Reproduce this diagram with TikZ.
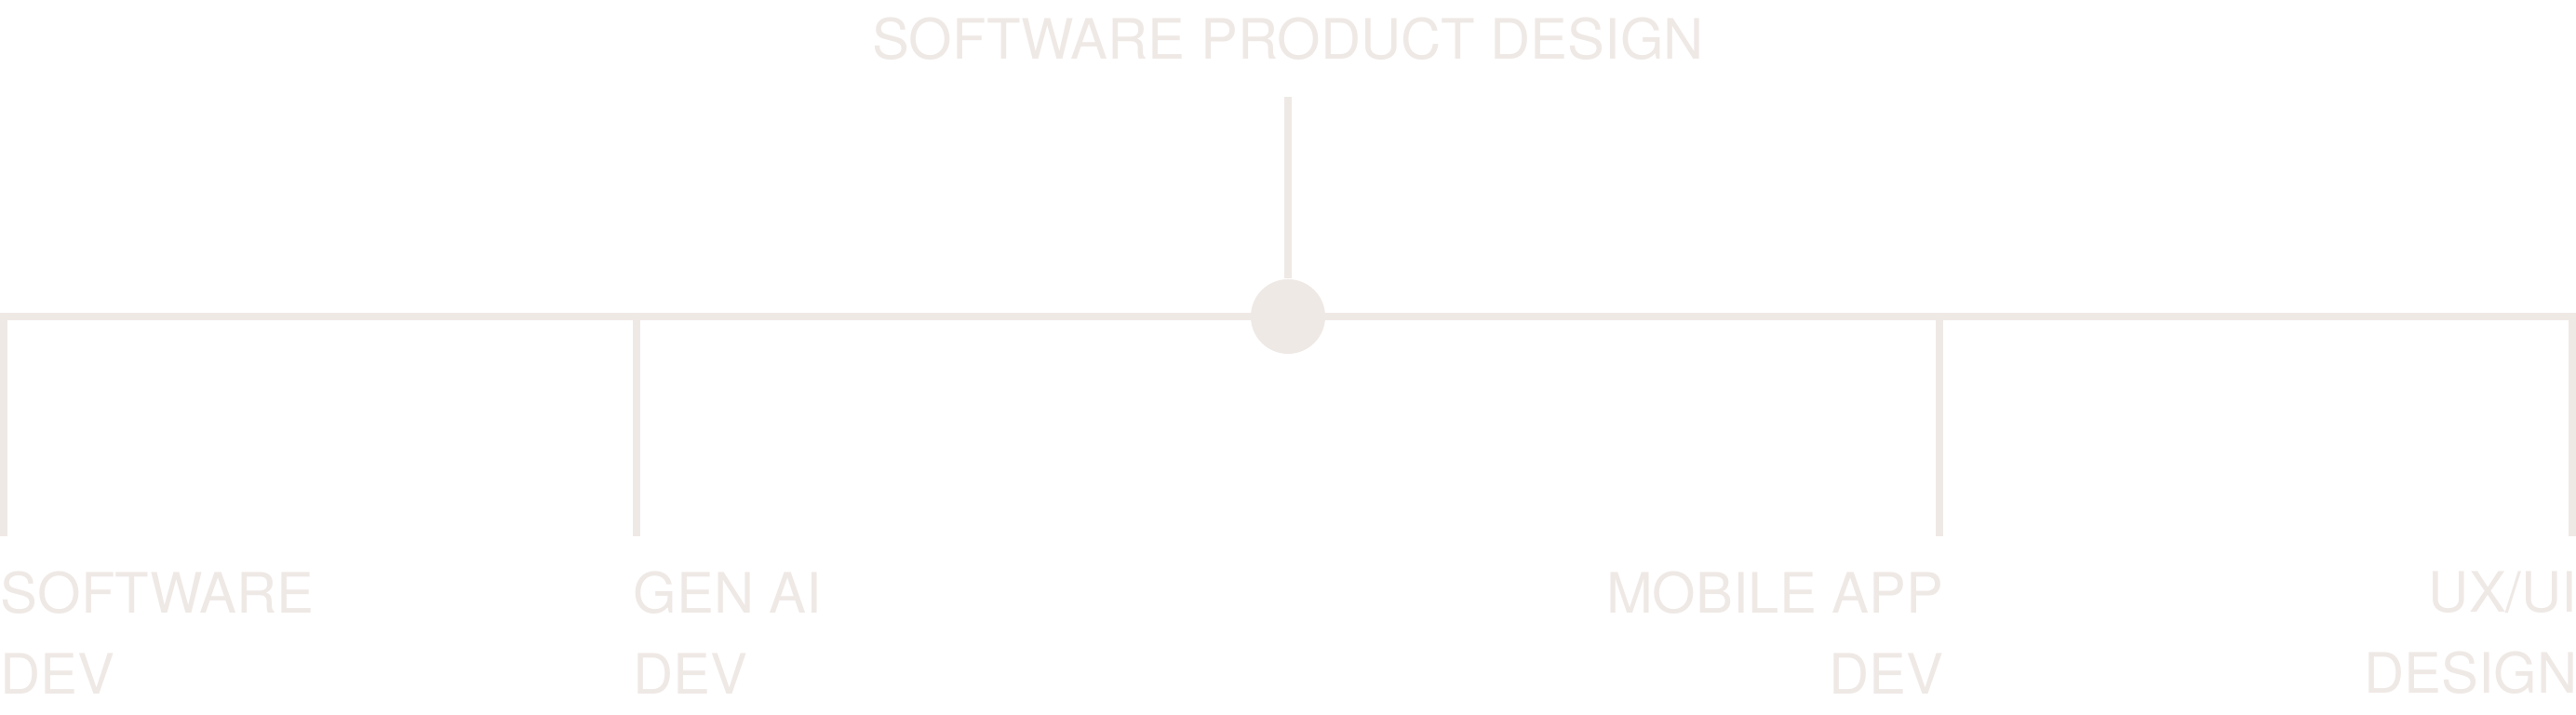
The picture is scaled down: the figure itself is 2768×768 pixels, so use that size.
\documentclass[tikz,border=0pt]{standalone}
\usepackage{fontspec}
\setmainfont{TeX Gyre Heros}
\usetikzlibrary{positioning}
\definecolor{ln}{RGB}{239, 233, 230}
\def\lw{0.08cm}
\tikzset{
	branch/.style={draw=ln,line width=\lw},
	hubnode/.style={circle,fill=ln,minimum size=0.8cm,inner sep=0cm},
	leaf/.style={color=ln,inner sep=0cm,font=\fontsize{17pt}{24.7pt}\selectfont},
	titlenode/.style={color=ln,inner sep=0cm,font=\fontsize{17pt}{24.7pt}\selectfont}
}

\begin{document}
\begin{tikzpicture}[x=0.01cm,y=-0.01cm]
\useasboundingbox[fill=white] (0,0) rectangle (2768,768);

\node[titlenode,anchor=base] (title) at (1384,64) {SOFTWARE PRODUCT DESIGN};
\coordinate (topEnd) at (1384,104);
\node[hubnode] (hub) at (1384,340) {};

\coordinate (swEnd) at (4,576);
\coordinate (genEnd) at (684,576);
\coordinate (mobEnd) at (2084,576);
\coordinate (uxEnd) at (2764,576);

\node[leaf,anchor=north west,align=left] (sw) at (0,613) {SOFTWARE\\DEV};
\node[leaf,anchor=north west,align=left] (gen) at (680,613) {GEN AI\\DEV};
\node[leaf,anchor=north east,align=right] (mob) at (2089,613) {MOBILE APP\\DEV};
\node[leaf,anchor=north east,align=right] (ux) at (2770,613) {UX/UI\\DESIGN};

\draw[branch] (topEnd) -- (hub);
\draw[branch] (swEnd) |- (hub.center) -| (uxEnd);
\draw[branch] (genEnd) -- (genEnd |- hub.center);
\draw[branch] (mobEnd) -- (mobEnd |- hub.center);
\end{tikzpicture}
\end{document}
